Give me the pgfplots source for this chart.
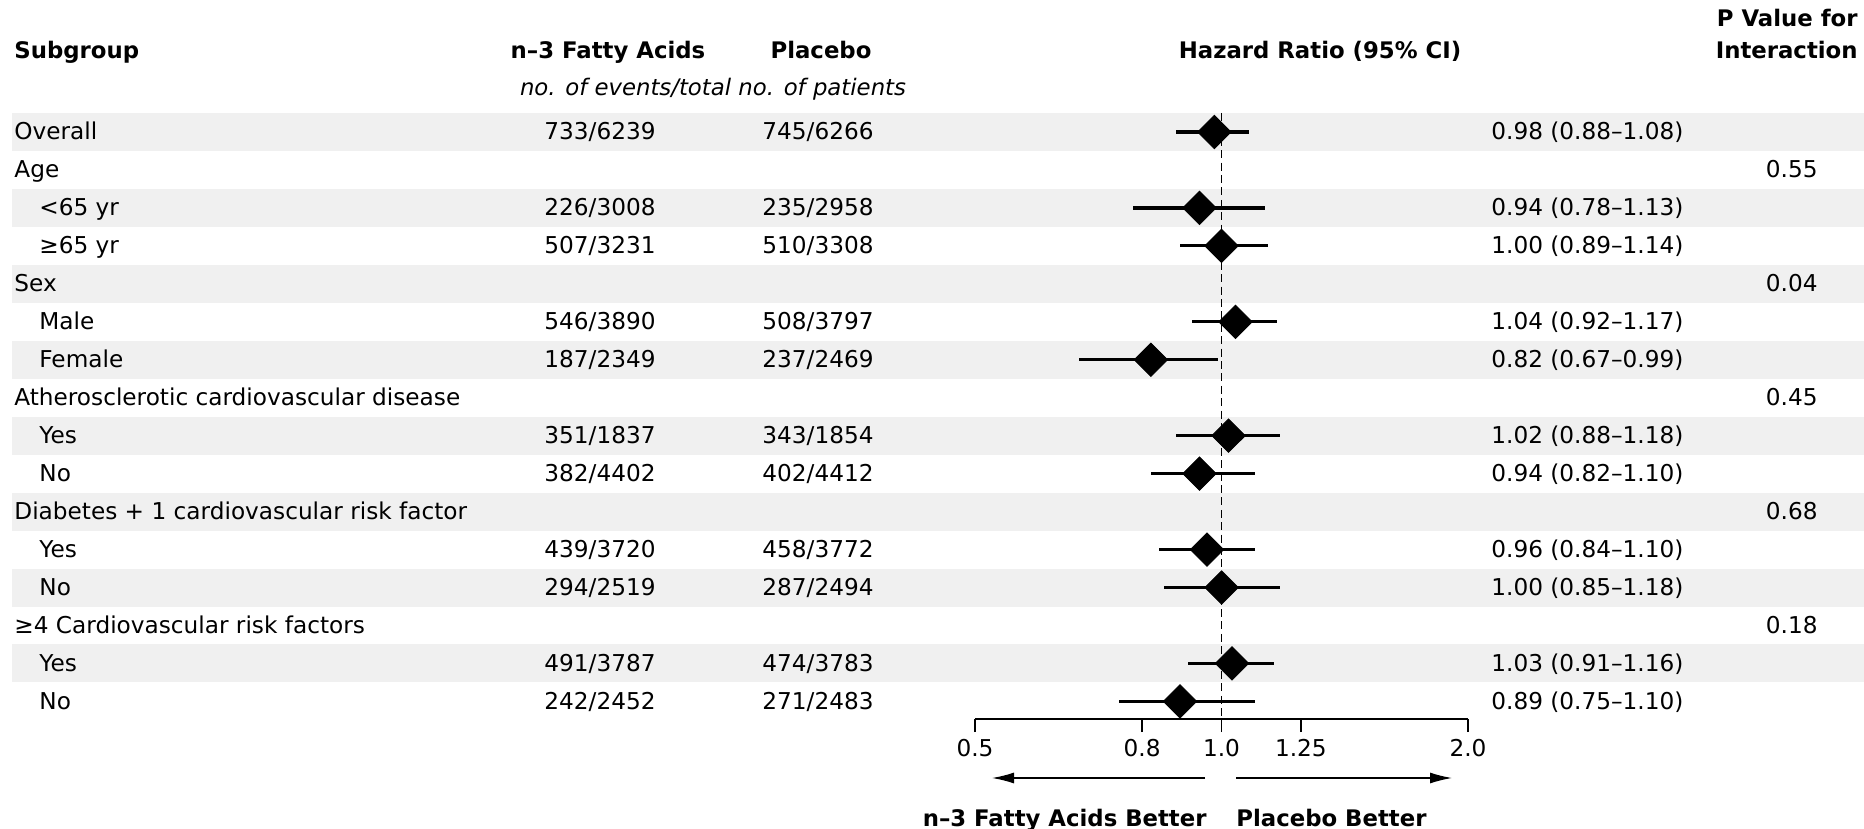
\documentclass[border=0pt]{standalone}
\usepackage{pgfplots}
\pgfplotsset{compat=1.18}
\usepackage{pgfplotstable}
\usetikzlibrary{arrows.meta}
\usepackage{fontspec}
\setmainfont{DejaVu Sans}
\definecolor{band}{HTML}{F0F0F0}

\pgfplotstableread{
y hr lo hi
0 0.98 0.88 1.08
-2 0.94 0.78 1.13
-3 1.00 0.89 1.14
-5 1.04 0.92 1.17
-6 0.82 0.67 0.99
-8 1.02 0.88 1.18
-9 0.94 0.82 1.10
-11 0.96 0.84 1.10
-12 1.00 0.85 1.18
-14 1.03 0.91 1.16
-15 0.89 0.75 1.10
}\hrdata

\newcommand{\rowtext}[7]{%
  \pgfmathsetmacro{\yb}{-(140+37.96*#1)}%
  \node[anchor=base west, inner sep=0pt] at (#2,\yb) {#3};
  \node[anchor=base, inner sep=0pt] at (600,\yb) {#4};
  \node[anchor=base, inner sep=0pt] at (818,\yb) {#5};
  \node[anchor=base west, inner sep=0pt] at (1491,\yb) {#6};
  \node[anchor=base east, inner sep=0pt] at (1818,\yb) {#7};
}

\begin{document}
\fontsize{11.6pt}{13pt}\selectfont
\begin{tikzpicture}
\begin{scope}[x=0.5pt,y=0.5pt]
\useasboundingbox (0,0) rectangle (1864,-829);
% alternate row shading
\foreach \i in {0,2,4,6,8,10,12,14} {
  \fill[band] (12,{-113-37.96*\i}) rectangle (1864,{-151-37.96*\i});
}
% headers
\tikzset{hdr/.style={inner sep=0pt, font=\fontsize{11.4pt}{13pt}\selectfont\bfseries}}
\node[hdr, anchor=base west] at (14,-59) {Subgroup};
\node[hdr, anchor=base] at (608,-59) {n–3 Fatty Acids};
\node[hdr, anchor=base] at (821,-59) {Placebo};
\node[hdr, anchor=base] at (1320,-59) {Hazard Ratio (95\% CI)};
\node[hdr, anchor=base east] at (1858,-27) {P Value for};
\node[hdr, anchor=base east] at (1858,-59) {Interaction};
\node[anchor=base, inner sep=0pt, font=\fontsize{11.4pt}{13pt}\selectfont\itshape] at (713,-96) {no. of events/total no. of patients};
% rows
\rowtext{0}{14}{Overall}{733/6239}{745/6266}{0.98 (0.88–1.08)}{}
\rowtext{1}{14}{Age}{}{}{}{0.55}
\rowtext{2}{39}{<65 yr}{226/3008}{235/2958}{0.94 (0.78–1.13)}{}
\rowtext{3}{39}{≥65 yr}{507/3231}{510/3308}{1.00 (0.89–1.14)}{}
\rowtext{4}{14}{Sex}{}{}{}{0.04}
\rowtext{5}{39}{Male}{546/3890}{508/3797}{1.04 (0.92–1.17)}{}
\rowtext{6}{39}{Female}{187/2349}{237/2469}{0.82 (0.67–0.99)}{}
\rowtext{7}{14}{Atherosclerotic cardiovascular disease}{}{}{}{0.45}
\rowtext{8}{39}{Yes}{351/1837}{343/1854}{1.02 (0.88–1.18)}{}
\rowtext{9}{39}{No}{382/4402}{402/4412}{0.94 (0.82–1.10)}{}
\rowtext{10}{14}{Diabetes + 1 cardiovascular risk factor}{}{}{}{0.68}
\rowtext{11}{39}{Yes}{439/3720}{458/3772}{0.96 (0.84–1.10)}{}
\rowtext{12}{39}{No}{294/2519}{287/2494}{1.00 (0.85–1.18)}{}
\rowtext{13}{14}{≥4 Cardiovascular risk factors}{}{}{}{0.18}
\rowtext{14}{39}{Yes}{491/3787}{474/3783}{1.03 (0.91–1.16)}{}
\rowtext{15}{39}{No}{242/2452}{271/2483}{0.89 (0.75–1.10)}{}
% direction arrows and labels
\draw[line width=0.7pt, -{Latex[length=11pt, width=5.5pt]}] (1205,-778) -- (992,-778);
\draw[line width=0.7pt, -{Latex[length=11pt, width=5.5pt]}] (1236,-778) -- (1452,-778);
\node[hdr, anchor=base east] at (1207,-826) {n–3 Fatty Acids Better};
\node[hdr, anchor=base west] at (1236,-826) {Placebo Better};
\end{scope}

\begin{axis}[
  at={(487.5pt,-359.5pt)}, anchor=south west,
  scale only axis, width=246.5pt, height=303pt,
  xmode=log, xmin=0.5, xmax=2, ymin=-15.464, ymax=0.5005,
  axis x line*=bottom, axis y line=none,
  xtick={0.5,0.8,1,1.25,2}, xticklabels={0.5,0.8,1.0,1.25,2.0},
  xminorticks=false,
  tick align=outside, major tick length=6.5pt,
  x axis line style={line width=0.7pt},
  every tick/.style={black, line width=0.7pt},
  xticklabel style={anchor=base, inner sep=0pt, yshift=-12pt},
  clip=false,
]
\addplot[black, line width=0.9pt, dash pattern=on 4pt off 2.2pt] coordinates {(1,0.5005) (1,-15.464)};
\addplot[only marks, mark=square*, mark size=5.9pt,
  mark options={rotate=45, solid, fill=black, draw=black, line width=0.4pt},
  error bars/.cd, x dir=both, x explicit,
  error bar style={line width=1.6pt, black, solid}, error mark=none]
  table[x=hr, y=y, x error plus expr=\thisrow{hi}-\thisrow{hr}, x error minus expr=\thisrow{hr}-\thisrow{lo}] {\hrdata};
\end{axis}
\end{tikzpicture}
\end{document}
